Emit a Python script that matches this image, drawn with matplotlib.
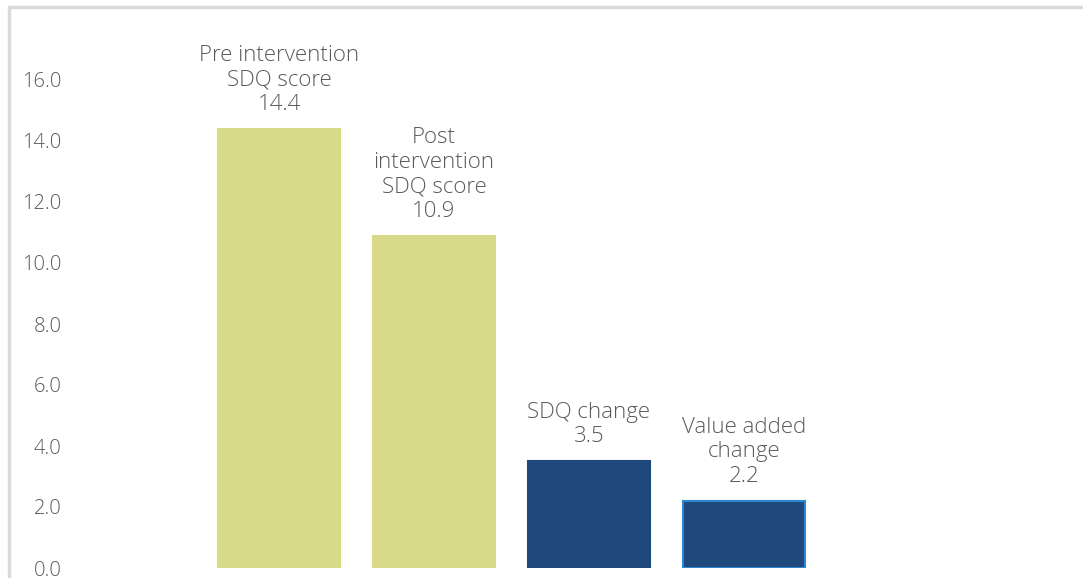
import matplotlib
matplotlib.use('Agg')
import matplotlib.pyplot as plt
from matplotlib.patches import Rectangle

categories = ['Pre intervention\nSDQ score', 'Post\nintervention\nSDQ score',
              'SDQ change', 'Value added\nchange']
values = [14.4, 10.9, 3.5, 2.2]
colors = ['#D8D989', '#D8D989', '#1F497D', '#1F497D']
edges = ['#D8D989', '#D8D989', '#1F497D', '#2E86D0']
yticks = [0, 2, 4, 6, 8, 10, 12, 14, 16]

plt.rcParams['font.family'] = ['Open Sans', 'DejaVu Sans']

f = plt.figure(figsize=(10.83, 5.78), dpi=100)
# thin grey frame round the chart area
f.patches.append(Rectangle((9/1083, -0.1), 1.2, (578-7)/578 + 0.1, transform=f.transFigure,
                           fill=False, edgecolor='#D9D9D9', linewidth=2.5))

ax = f.add_axes([70/1083, 10/578, 1 - 70/1083, 568/578])
x = range(len(values))
ax.bar(x, values, width=0.79, color=colors, edgecolor=edges, linewidth=1.5)

for i, v in enumerate(values):
    ax.annotate(categories[i] + '\n%.1f' % v, (i, v), xytext=(0, 10),
                textcoords='offset points', ha='center', va='bottom',
                fontsize=16, color='#595959', linespacing=1.22, fontweight='light')

ax.set_xlim(-1.348, 5.187)
ax.set_ylim(0, 568/30.5)
ax.set_yticks(yticks)
ax.set_yticklabels(['%.1f' % t for t in yticks], fontsize=14.5, color='#595959',
                   fontweight='light')
ax.tick_params(axis='y', length=0, pad=6)
ax.set_xticks([])
for s in ax.spines.values():
    s.set_visible(False)

plt.savefig('out.png', dpi=100)
